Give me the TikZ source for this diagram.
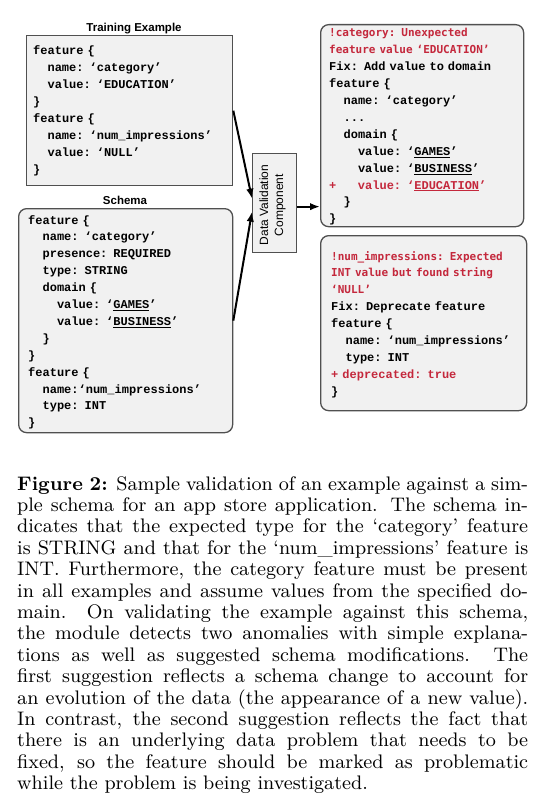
\documentclass[tikz,border=0pt]{standalone}
\usepackage{fontspec}
\usetikzlibrary{arrows.meta,calc}
\newfontfamily\codefont{Liberation Mono}
\newfontfamily\errfont{DejaVu Sans Mono}
\newfontfamily\labfont{Liberation Sans}
\newfontfamily\capfont{lmroman9-regular.otf}[BoldFont=lmroman9-bold.otf]
\definecolor{errred}{RGB}{196,40,60}
\definecolor{boxfill}{RGB}{241,241,241}
\definecolor{boxline}{RGB}{80,80,80}
\newdimen\codecw \codecw=7.2pt
\newcommand\codeind[1]{\hspace*{#1\codecw}}
\newcommand\errline[1]{{\errfont\bfseries\fontsize{11}{16.9}\selectfont\color{errred}#1}}
\newcommand\redcode[1]{{\color{errred}#1}}
\tikzset{
  plainbox/.style={draw=boxline, fill=boxfill, line width=1.3pt, inner sep=0pt, anchor=north west},
  roundbox/.style={plainbox, rounded corners=8pt},
  codetext/.style={anchor=base west, inner sep=0pt, align=left, text width=#1,
    font=\codefont\bfseries\fontsize{12}{16.9}\selectfont},
  titlelab/.style={anchor=base, inner sep=0pt, font=\labfont\bfseries\fontsize{11.5}{14}\selectfont},
  dvclab/.style={inner sep=0pt, align=center, rotate=90, font=\labfont\fontsize{12}{15}\selectfont},
  arr/.style={line width=2pt, -{Latex[length=10pt,width=7.5pt]}},
  capline/.style={anchor=base west, inner sep=0pt, font=\capfont\fontsize{19.6}{21.4}\selectfont},
}
\begin{document}
\begin{tikzpicture}[x=1pt,y=-1pt]
\useasboundingbox (0,0) rectangle (547,800);
\fill[white] (0,0) rectangle (547,800);

% labels
\node[titlelab] (trainlab) at (134,32) {Training Example};
\node[titlelab] (schemalab) at (125,204) {Schema};

% boxes
\node[plainbox, minimum width=206pt, minimum height=150pt] (train) at (26,35) {};
\node[roundbox, minimum width=214pt, minimum height=224pt] (schema) at (18,208) {};
\node[roundbox, minimum width=203pt, minimum height=202pt] (fix1) at (320,24) {};
\node[roundbox, minimum width=206pt, minimum height=175pt] (fix2) at (320,235) {};
\node[plainbox, minimum width=44pt, minimum height=99pt] (dvc) at (252,153) {};
\node[dvclab] (dvctext) at (272.5,205) {Data Validation\\Component};

% texts
\node[codetext=200pt] (traintext) at (33,55) {feature \{\\
\codeind{2}name: ‘category’\\
\codeind{2}value: ‘EDUCATION’\\
\}\\
feature \{\\
\codeind{2}name: ‘num\_impressions’\\
\codeind{2}value: ‘NULL’\\
\}};

\node[codetext=200pt] (schematext) at (28,224) {feature \{\\
\codeind{2}name: ‘category’\\
\codeind{2}presence: REQUIRED\\
\codeind{2}type: STRING\\
\codeind{2}domain \{\\
\codeind{4}value: ‘\underline{GAMES}’\\
\codeind{4}value: ‘\underline{BUSINESS}’\\
\codeind{2}\}\\
\}\\
feature \{\\
\codeind{2}name:‘num\_impressions’\\
\codeind{2}type: INT\\
\}};

\node[codetext=195pt] (fix1text) at (329,37) {\errline{!category: Unexpected}\\
\errline{feature value ‘EDUCATION’}\\
Fix: Add value to domain\\
feature \{\\
\codeind{2}name: ‘category’\\
\codeind{2}...\\
\codeind{2}domain \{\\
\codeind{4}value: ‘\underline{GAMES}’\\
\codeind{4}value: ‘\underline{BUSINESS}’\\
\redcode{+\codeind{3}value: ‘\underline{EDUCATION}’}\\
\codeind{2}\}\\
\}};

\node[codetext=195pt] (fix2text) at (331,260) {\errline{!num\_impressions: Expected}\\
\errline{INT value but found string}\\
\errline{‘NULL’}\\
Fix: Deprecate feature\\
feature \{\\
\codeind{2}name: ‘num\_impressions’\\
\codeind{2}type: INT\\
\redcode{+ deprecated: true}\\
\}};

% arrows
\draw[arr] (train.east) -- ([yshift=4.5pt]dvc.west);
\draw[arr] (schema.east) -- ([yshift=-8.5pt]dvc.west);
\coordinate (dvcout) at ([yshift=-3.5pt]dvc.east);
\draw[arr] (dvcout) -- (dvcout -| fix1.west);

% caption
\node[capline] (c1) at (17,490) {\makebox[511pt][s]{{\bfseries Figure 2:} Sample validation of an example against a sim-}};
\node[capline] (c2) at (17,511.4) {\makebox[511pt][s]{ple schema for an app store application. The schema in-}};
\node[capline] (c3) at (17,532.8) {\makebox[511pt][s]{dicates that the expected type for the ‘category’ feature}};
\node[capline] (c4) at (17,554.2) {\makebox[511pt][s]{is STRING and that for the ‘num\_impressions’ feature is}};
\node[capline] (c5) at (17,575.6) {\makebox[511pt][s]{INT. Furthermore, the category feature must be present}};
\node[capline] (c6) at (17,597.0) {\makebox[511pt][s]{in all examples and assume values from the specified do-}};
\node[capline] (c7) at (17,618.4) {\makebox[511pt][s]{main. On validating the example against this schema,}};
\node[capline] (c8) at (17,639.8) {\makebox[511pt][s]{the module detects two anomalies with simple explana-}};
\node[capline] (c9) at (17,661.2) {\makebox[511pt][s]{tions as well as suggested schema modifications. The}};
\node[capline] (c10) at (17,682.6) {\makebox[511pt][s]{first suggestion reflects a schema change to account for}};
\node[capline] (c11) at (17,704.0) {\makebox[511pt][s]{an evolution of the data (the appearance of a new value).}};
\node[capline] (c12) at (17,725.4) {\makebox[511pt][s]{In contrast, the second suggestion reflects the fact that}};
\node[capline] (c13) at (17,746.8) {\makebox[511pt][s]{there is an underlying data problem that needs to be}};
\node[capline] (c14) at (17,768.2) {\makebox[511pt][s]{fixed, so the feature should be marked as problematic}};
\node[capline] (c15) at (17,789.6) {while the problem is being investigated.};
\end{tikzpicture}
\end{document}
